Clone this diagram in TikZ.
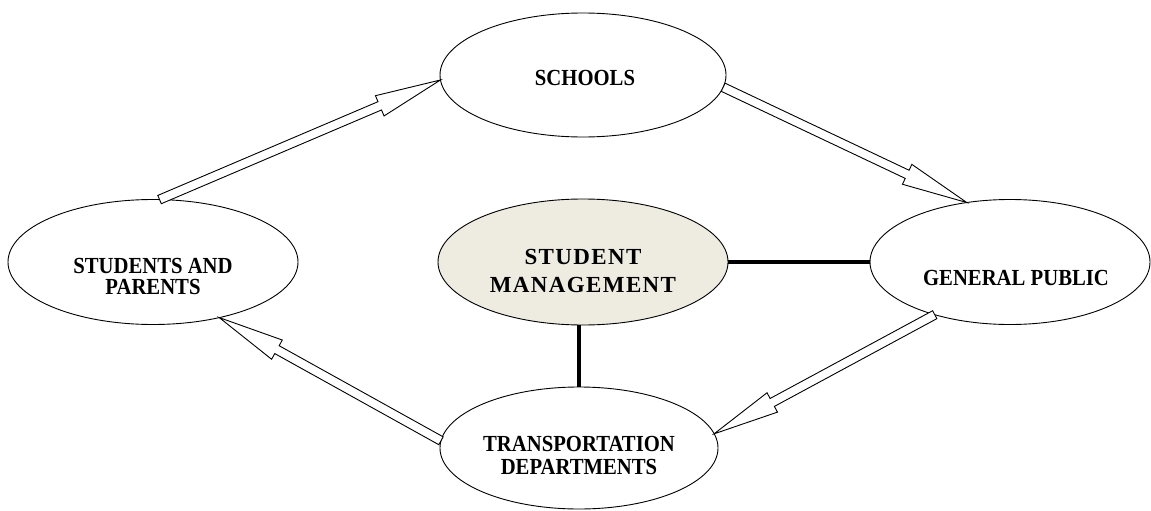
\documentclass[tikz,border=0pt]{standalone}
\usepackage{fontspec}
\setmainfont{Liberation Serif}
\usetikzlibrary{shapes.geometric,calc}
\definecolor{mgfill}{HTML}{EEECE1}
\tikzset{
  oval/.style={ellipse, draw=black, line width=0.9pt, fill=white, inner sep=0pt, outer sep=0pt},
  lbl/.style={font=\fontsize{23}{21}\selectfont\bfseries\addfontfeatures{FakeStretch=0.9}, align=center, inner sep=0pt},
  biglbl/.style={font=\fontsize{23}{28}\selectfont\bfseries\addfontfeatures{LetterSpace=6}, align=center, inner sep=0pt},
  blockarrow/.style={draw=black, line width=0.9pt, fill=white, line join=miter},
  link/.style={draw=black, line width=3.8pt}
}
\newcommand\blockarr[2]{%
  \draw[blockarrow]
    ($(#1)!4.5pt!90:(#2)$) --
    ($($(#2)!66pt!(#1)$)!4.5pt!-90:(#1)$) --
    ($($(#2)!66pt!(#1)$)!11pt!-90:(#1)$) --
    (#2) --
    ($($(#2)!66pt!(#1)$)!11pt!90:(#1)$) --
    ($($(#2)!66pt!(#1)$)!4.5pt!90:(#1)$) --
    ($(#1)!4.5pt!-90:(#2)$) -- cycle;}
\begin{document}
\begin{tikzpicture}[x=1pt,y=-1pt]
\useasboundingbox (0,0) rectangle (1151,511);
% ovals
\node[oval, minimum width=286pt, minimum height=124pt] (sch) at (583,75) {};
\node[oval, minimum width=290pt, minimum height=125pt] (sp) at (153,262) {};
\node[oval, minimum width=290pt, minimum height=126pt, fill=mgfill] (mg) at (583,262) {};
\node[oval, minimum width=280pt, minimum height=125pt] (gp) at (1010,262) {};
\node[oval, minimum width=278pt, minimum height=122pt] (tr) at (579,448) {};
% labels
\node[lbl] (schT) at (585,78) {SCHOOLS};
\node[lbl] (spT) at (153,276) {STUDENTS AND\\PARENTS};
\node[biglbl] (mgT) at (583,271) {STUDENT\\MANAGEMENT};
\node[lbl] (gpT) at (1016,278) {GENERAL PUBLIC};
\node[lbl, font=\fontsize{23}{23}\selectfont\bfseries\addfontfeatures{FakeStretch=0.9}] (trT) at (579,455) {TRANSPORTATION\\DEPARTMENTS};
% links
\draw[link] (mg.east) -- (gp.west);
\draw[link] (tr.north |- mg.south) -- (tr.north);
% block arrows
\blockarr{sp.84}{sch.182}
\blockarr{sch.-5}{gp.126}
\blockarr{gp.215}{tr.6}
\blockarr{tr.177}{sp.320}
\end{tikzpicture}
\end{document}
